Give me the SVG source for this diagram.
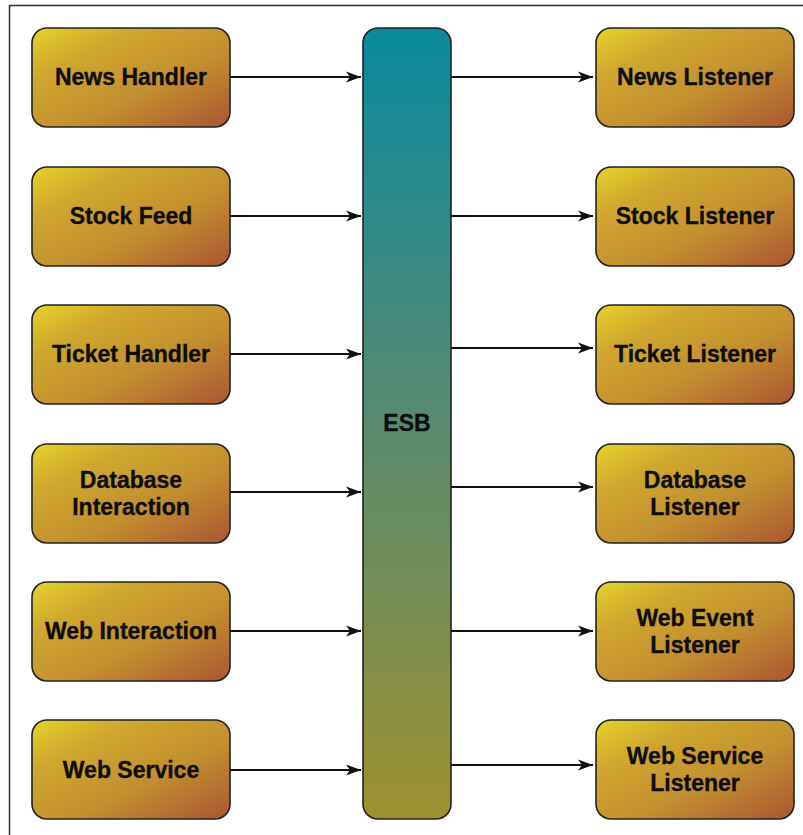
<svg xmlns="http://www.w3.org/2000/svg" width="803" height="835" viewBox="0 0 803 835">
<defs>
<linearGradient id="gNode" x1="0" y1="0" x2="1" y2="1">
<stop offset="0" stop-color="#e4d42a"/>
<stop offset="0.25" stop-color="#d0a82e"/>
<stop offset="0.6" stop-color="#c38f30"/>
<stop offset="1" stop-color="#ac5530"/>
</linearGradient>
<linearGradient id="gEsb" x1="0" y1="0" x2="0" y2="1">
<stop offset="0" stop-color="#0a8a9e"/>
<stop offset="0.5" stop-color="#588b70"/>
<stop offset="1" stop-color="#9e912e"/>
</linearGradient>
<marker id="arr" markerWidth="16" markerHeight="12" refX="15" refY="6" orient="auto" markerUnits="userSpaceOnUse">
<path d="M0,0.5 L15,6 L0,11.5 L4,6 Z" fill="#111"/>
</marker>
<style>
.node{fill:url(#gNode);stroke:#222;stroke-width:1.6}
.esb{fill:url(#gEsb);stroke:#222;stroke-width:1.6}
.t{font-family:"Liberation Sans",Arial,sans-serif;font-weight:bold;font-size:23px;fill:#0e0e0e;stroke:#0e0e0e;stroke-width:0.35;text-anchor:middle}
.c{stroke:#111;stroke-width:1.9;fill:none;marker-end:url(#arr)}
.frame{stroke:#333;stroke-width:1.5;fill:none}
</style>
</defs>
<rect width="803" height="835" fill="#fff"/>
<path class="frame" d="M9.5,835 L9.5,5.5 L803,5.5"/>

<g id="esb">
<rect class="esb" x="363" y="28" width="88" height="791" rx="15"/>
<text class="t" x="407" y="431">ESB</text>
</g>

<g id="news-handler"><rect class="node" x="32" y="28" width="198" height="99" rx="15"/><text class="t" x="131" y="85">News Handler</text></g>
<g id="stock-feed"><rect class="node" x="32" y="167" width="198" height="99" rx="15"/><text class="t" x="131" y="224">Stock Feed</text></g>
<g id="ticket-handler"><rect class="node" x="32" y="305" width="198" height="99" rx="15"/><text class="t" x="131" y="362">Ticket Handler</text></g>
<g id="database-interaction"><rect class="node" x="32" y="444" width="198" height="99" rx="15"/><text class="t" x="131" y="488">Database</text><text class="t" x="131" y="515">Interaction</text></g>
<g id="web-interaction"><rect class="node" x="32" y="582" width="198" height="99" rx="15"/><text class="t" x="131" y="639">Web Interaction</text></g>
<g id="web-service"><rect class="node" x="32" y="720" width="198" height="99" rx="15"/><text class="t" x="131" y="778">Web Service</text></g>

<g id="news-listener"><rect class="node" x="596" y="28" width="198" height="99" rx="15"/><text class="t" x="695" y="85">News Listener</text></g>
<g id="stock-listener"><rect class="node" x="596" y="167" width="198" height="99" rx="15"/><text class="t" x="695" y="224">Stock Listener</text></g>
<g id="ticket-listener"><rect class="node" x="596" y="305" width="198" height="99" rx="15"/><text class="t" x="695" y="362">Ticket Listener</text></g>
<g id="database-listener"><rect class="node" x="596" y="444" width="198" height="99" rx="15"/><text class="t" x="695" y="488">Database</text><text class="t" x="695" y="515">Listener</text></g>
<g id="web-event-listener"><rect class="node" x="596" y="582" width="198" height="99" rx="15"/><text class="t" x="695" y="626">Web Event</text><text class="t" x="695" y="653">Listener</text></g>
<g id="web-service-listener"><rect class="node" x="596" y="720" width="198" height="99" rx="15"/><text class="t" x="695" y="764">Web Service</text><text class="t" x="695" y="791">Listener</text></g>

<g id="connectors">
<line class="c" x1="230" y1="77" x2="361" y2="77"/>
<line class="c" x1="230" y1="216" x2="361" y2="216"/>
<line class="c" x1="230" y1="354" x2="361" y2="354"/>
<line class="c" x1="230" y1="492" x2="361" y2="492"/>
<line class="c" x1="230" y1="631" x2="361" y2="631"/>
<line class="c" x1="230" y1="770" x2="361" y2="770"/>
<line class="c" x1="451" y1="77" x2="593" y2="77"/>
<line class="c" x1="451" y1="216" x2="593" y2="216"/>
<line class="c" x1="451" y1="348" x2="593" y2="348"/>
<line class="c" x1="451" y1="487" x2="593" y2="487"/>
<line class="c" x1="451" y1="631" x2="593" y2="631"/>
<line class="c" x1="451" y1="765" x2="593" y2="765"/>
</g>
</svg>
